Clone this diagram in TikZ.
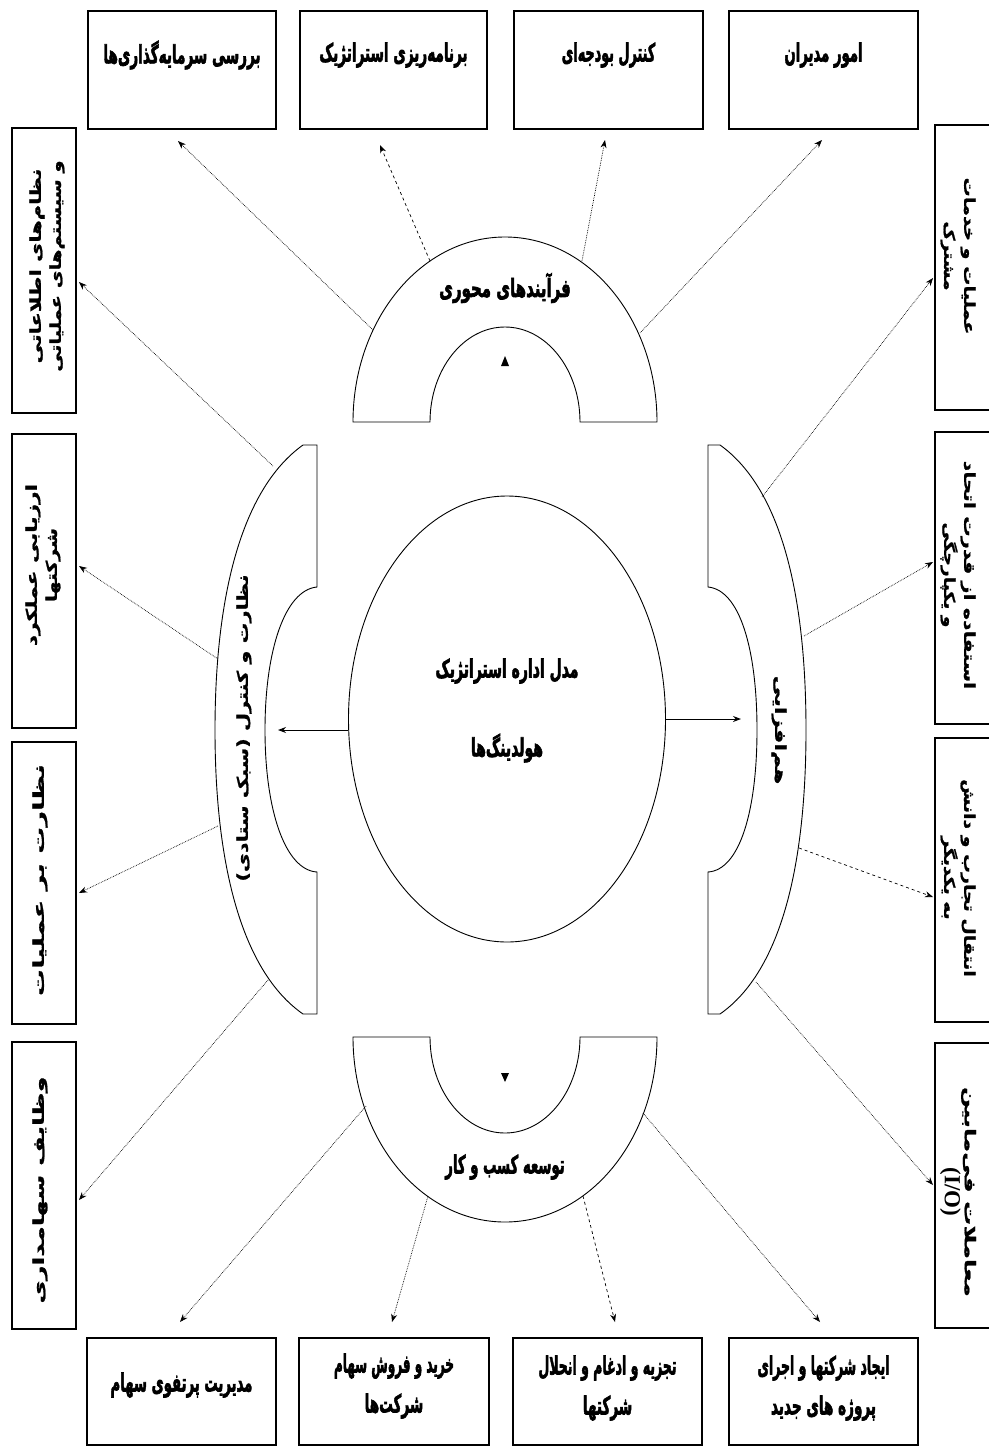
\documentclass[tikz,border=0pt]{standalone}
\usepackage{fontspec}
\usepackage{graphicx}
\newfontfamily\arabicfont[Script=Arabic, BoldFont={DejaVu Sans Bold}, BoldFeatures={FakeBold=1.2}]{DejaVu Sans}
\newfontfamily\arabicheavy[Script=Arabic, FakeBold=3]{DejaVu Sans Bold}
\newfontfamily\latinserif{Liberation Serif}
\TeXXeTstate=1
\usetikzlibrary{arrows.meta,shapes.geometric}
\newcommand{\fa}[2][0.544]{\scalebox{#1}[1]{\beginR #2\endR}}
\begin{document}
\begin{tikzpicture}[x=1pt,y=-1pt,
  box/.style={draw, line width=1.7pt, inner sep=0pt},
  lbl/.style={font=\arabicheavy\fontsize{25}{40}\selectfont, align=center, inner sep=0pt},
  sidelbl/.style={font=\arabicfont\bfseries\fontsize{15}{20}\selectfont, align=center, inner sep=0pt},
  part/.style={draw, line width=0.9pt},
  conn/.style={line width=0.7pt, densely dotted, -{Stealth[length=8pt,width=6pt]}},
  dconn/.style={line width=0.7pt, dashed, -{Stealth[length=8pt,width=6pt]}},
  sconn/.style={line width=1pt, -{Stealth[length=8pt,width=6pt]}}]
\useasboundingbox (0,0) rectangle (988,1448);
\fill[white] (0,0) rectangle (988,1448);

% top boxes
\node[box, minimum width=188pt, minimum height=118pt] (t1) at (182,70) {};
\node[box, minimum width=187pt, minimum height=118pt] (t2) at (393.5,70) {};
\node[box, minimum width=189pt, minimum height=118pt] (t3) at (608.5,70) {};
\node[box, minimum width=189pt, minimum height=118pt] (t4) at (823.5,70) {};
\node[lbl] (t1l) at (182,55) {\fa{بررسی سرمایه‌گذاری‌ها}};
\node[lbl] (t2l) at (393.5,55) {\fa{برنامه‌ریزی استراتژیک}};
\node[lbl] (t3l) at (608.5,55) {\fa[0.51]{کنترل بودجه‌ای}};
\node[lbl] (t4l) at (823.5,55) {\fa[0.53]{امور مدیران}};

% bottom boxes
\node[box, minimum width=189pt, minimum height=107pt] (b1) at (181.5,1391.5) {};
\node[box, minimum width=190pt, minimum height=107pt] (b2) at (394,1391.5) {};
\node[box, minimum width=189pt, minimum height=107pt] (b3) at (607.5,1391.5) {};
\node[box, minimum width=189pt, minimum height=107pt] (b4) at (823.5,1391.5) {};
\node[lbl] (b1l) at (181.5,1385) {\fa[0.53]{مدیریت پرتفوی سهام}};
\node[lbl] (b2l) at (394,1386) {\fa[0.48]{خرید و فروش سهام}\\\fa{شرکت‌ها}};
\node[lbl] (b3l) at (607.5,1388) {\fa[0.5]{تجزیه و ادغام و انحلال}\\\fa{شرکتها}};
\node[lbl] (b4l) at (823.5,1388) {\fa[0.5]{ایجاد شرکتها و اجرای}\\\fa{پروژه های جدید}};

% left boxes
\node[box, minimum width=64pt, minimum height=285pt] (l1) at (44,270.5) {};
\node[box, minimum width=64pt, minimum height=294pt] (l2) at (44,581) {};
\node[box, minimum width=64pt, minimum height=282pt] (l3) at (44,883) {};
\node[box, minimum width=64pt, minimum height=287pt] (l4) at (44,1185.5) {};
\node[sidelbl, rotate=90] (l1l) at (47,266) {\fa[1.4]{نظام‌های اطلاعاتی}\\\fa[1.3]{و سیستم‌های عملیاتی}};
\node[sidelbl, rotate=90] (l2l) at (43,565) {\fa[1.45]{ارزیابی عملکرد}\\\fa[1.36]{شرکتها}};
\node[sidelbl, rotate=90] (l3l) at (40,880) {\fa[1.81]{نظارت بر عملیات}};
\node[sidelbl, rotate=90] (l4l) at (40,1190) {\fa[1.7]{وظایف سهامداری}};

% right boxes
\node[box, minimum width=70pt, minimum height=285pt] (r1) at (970,267.5) {};
\node[box, minimum width=70pt, minimum height=292pt] (r2) at (970,578) {};
\node[box, minimum width=70pt, minimum height=284pt] (r3) at (970,880) {};
\node[box, minimum width=70pt, minimum height=285pt] (r4) at (970,1185.5) {};
\node[sidelbl, rotate=-90] (r1l) at (958,256) {\fa[1.28]{عملیات و خدمات}\\\fa[1.25]{مشترک}};
\node[sidelbl, rotate=-90] (r2l) at (958,575) {\fa[1.38]{استفاده از قدرت اتحاد}\\\fa[1.25]{و یکپارچگی}};
\node[sidelbl, rotate=-90] (r3l) at (958,878) {\fa[1.26]{انتقال تجارب و دانش}\\\fa[1.25]{به یکدیگر}};
\node[sidelbl, rotate=-90] (r4l) at (958,1192) {\fa[1.62]{معاملات فی‌مابین}\\{\latinserif\bfseries\fontsize{23}{24}\selectfont (I/O)}};

% centre circle
\node[draw, ellipse, line width=0.9pt, minimum width=317pt, minimum height=446pt, inner sep=0pt] (c) at (507,719) {};
\node[lbl] (c1) at (507,671) {\fa[0.56]{مدل اداره استراتژیک}};
\node[lbl] (c2) at (507,748) {\fa[0.56]{هولدینگ‌ها}};

% top arch
\draw[part] (353,422) .. controls (353,319.8) and (421,237) .. (505,237)
  .. controls (589,237) and (657,319.8) .. (657,422) -- (580,422)
  .. controls (580,369.5) and (546.4,327) .. (505,327)
  .. controls (463.6,327) and (430,369.5) .. (430,422) -- cycle;
\node[lbl] (ta) at (505,288) {\fa[0.6]{فرآیندهای محوری}};
\fill (501,366) -- (509,366) -- (505,356) -- cycle;

% bottom arch
\draw[part] (353,1037) .. controls (353,1139.2) and (421,1222) .. (505,1222)
  .. controls (589,1222) and (657,1139.2) .. (657,1037) -- (580,1037)
  .. controls (580,1090) and (546.4,1133) .. (505,1133)
  .. controls (463.6,1133) and (430,1090) .. (430,1037) -- cycle;
\node[lbl] (ba) at (505,1167) {\fa[0.53]{توسعه کسب و کار}};
\fill (501,1073) -- (509,1073) -- (505,1082) -- cycle;

% left part
\draw[part] (317,445) -- (303,445) .. controls (240,490) and (215,600) .. (215,730)
  .. controls (215,860) and (240,970) .. (303,1014) -- (317,1014) -- (317,872)
  .. controls (285,870) and (265,810) .. (265,730)
  .. controls (265,650) and (285,590) .. (317,587) -- cycle;
\node[sidelbl, rotate=90] (la) at (244,728) {\fa[1.39]{نظارت و کنترل (سبک ستادی)}};

% right part
\draw[part] (708,445) -- (720,445) .. controls (783,490) and (806,600) .. (806,730)
  .. controls (806,860) and (783,970) .. (720,1014) -- (708,1014) -- (708,872)
  .. controls (740,870) and (757,810) .. (757,730)
  .. controls (757,650) and (740,590) .. (708,587) -- cycle;
\node[sidelbl, rotate=-90] (ra) at (779,730) {\fa[1.5]{هم‌افزایی}};

% connector coordinates
\coordinate (pt1) at (373,330); \coordinate (et1) at (178,141);
\coordinate (pt2) at (430,261); \coordinate (et2) at (380,145);
\coordinate (pt3) at (582,261); \coordinate (et3) at (605,140);
\coordinate (pt4) at (640,333); \coordinate (et4) at (822,140);
\coordinate (pb1) at (366,1106); \coordinate (eb1) at (180,1322);
\coordinate (pb2) at (428,1196); \coordinate (eb2) at (392,1322);
\coordinate (pb3) at (583,1196); \coordinate (eb3) at (615,1322);
\coordinate (pb4) at (643,1113); \coordinate (eb4) at (820,1322);
\coordinate (pl1) at (273,466); \coordinate (el1) at (79,282);
\coordinate (pl2) at (218,659); \coordinate (el2) at (79,566);
\coordinate (pl3) at (218,826); \coordinate (el3) at (79,893);
\coordinate (pl4) at (268,980); \coordinate (el4) at (79,1200);
\coordinate (pr1) at (762,497); \coordinate (er1) at (933,278);
\coordinate (pr2) at (804,636); \coordinate (er2) at (933,562);
\coordinate (pr3) at (799,848); \coordinate (er3) at (933,897);
\coordinate (pr4) at (756,982); \coordinate (er4) at (933,1185);
\coordinate (cl) at (278,730); \coordinate (cr) at (741,719);

\draw[conn] (pt1) -- (et1);
\draw[dconn] (pt2) -- (et2);
\draw[conn] (pt3) -- (et3);
\draw[conn] (pt4) -- (et4);
\draw[conn] (pb1) -- (eb1);
\draw[conn] (pb2) -- (eb2);
\draw[dconn] (pb3) -- (eb3);
\draw[conn] (pb4) -- (eb4);
\draw[conn] (pl1) -- (el1);
\draw[conn] (pl2) -- (el2);
\draw[conn] (pl3) -- (el3);
\draw[conn] (pl4) -- (el4);
\draw[conn] (pr1) -- (er1);
\draw[conn] (pr2) -- (er2);
\draw[dconn] (pr3) -- (er3);
\draw[conn] (pr4) -- (er4);
\draw[sconn] (c.west |- cl) -- (cl);
\draw[sconn] (c.east |- cr) -- (cr);
\end{tikzpicture}
\end{document}
